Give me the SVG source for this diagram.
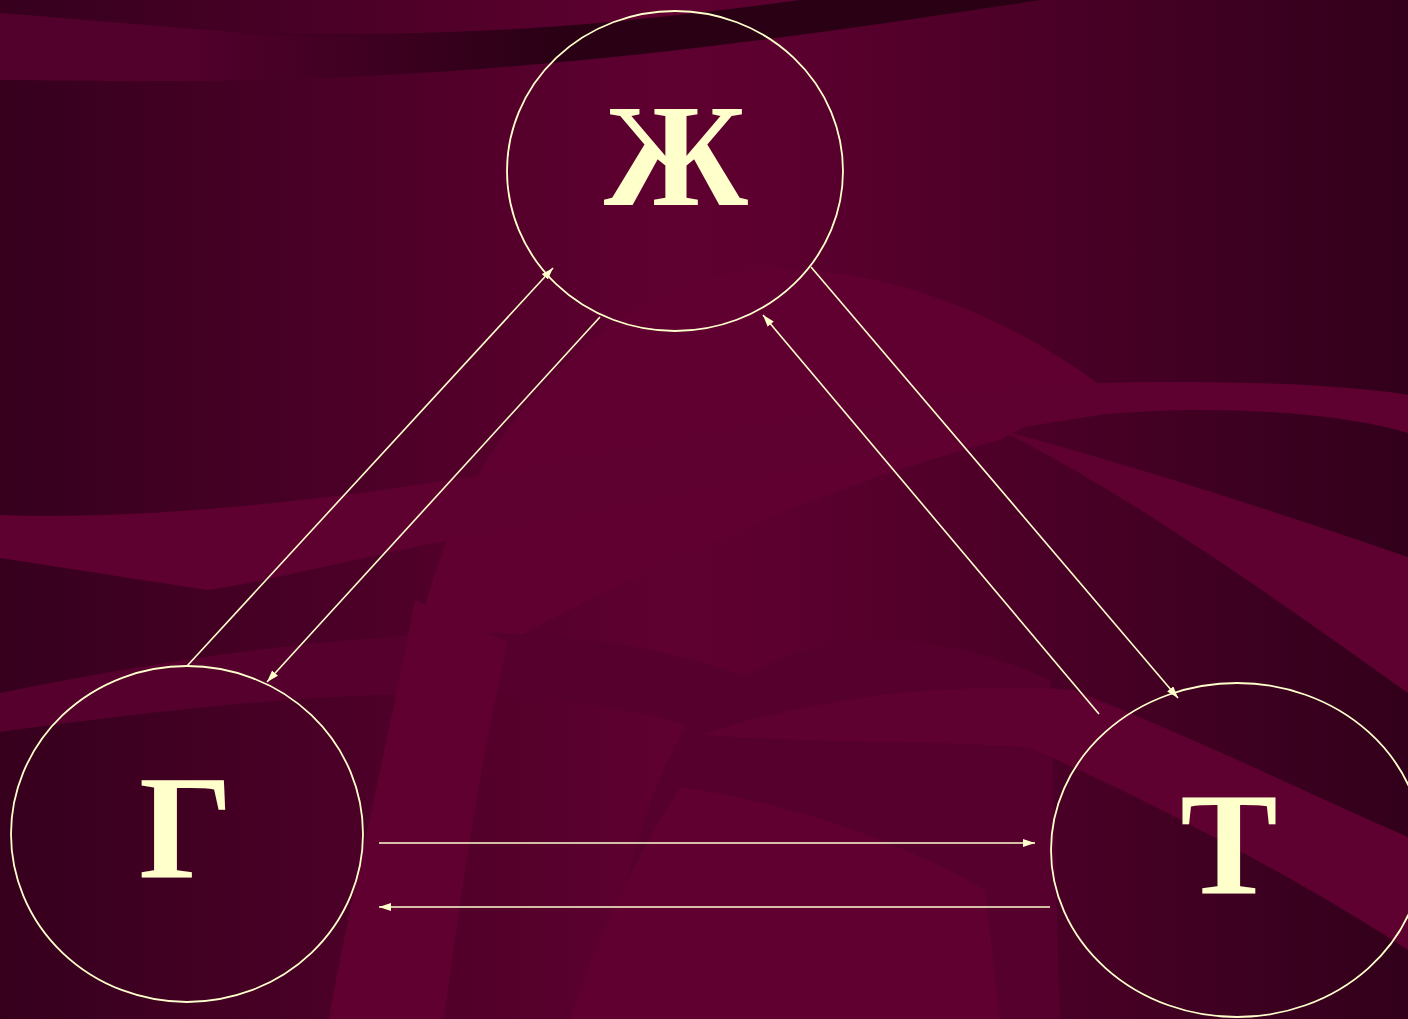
<svg xmlns="http://www.w3.org/2000/svg" width="1408" height="1019" viewBox="0 0 1408 1019">
<style>
.node-ring{fill:none;stroke:#FFFFCC;stroke-width:1.8}
.label{font-family:"Liberation Serif","Times New Roman",serif;font-weight:bold;fill:#FFFFCC;text-anchor:middle}
.conn{stroke:#FFFFCC;stroke-width:1.6;fill:none;marker-end:url(#arrow)}
</style>
<defs>
<linearGradient id="bg" x1="0" y1="0" x2="1" y2="0">
<stop offset="0" stop-color="#36001D"/>
<stop offset="0.47" stop-color="#5E0030"/>
<stop offset="0.55" stop-color="#5C002F"/>
<stop offset="1" stop-color="#32001B"/>
</linearGradient>
<linearGradient id="darkband" gradientUnits="userSpaceOnUse" x1="180" y1="0" x2="560" y2="0">
<stop offset="0" stop-color="#2A0015" stop-opacity="0"/>
<stop offset="1" stop-color="#2A0015" stop-opacity="1"/>
</linearGradient>
<marker id="arrow" markerUnits="userSpaceOnUse" markerWidth="12" markerHeight="8" refX="12" refY="4" orient="auto">
<path d="M0,0 L12,4 L0,8 Z" fill="#FFFFCC"/>
</marker>
</defs>
<g id="background">
<rect width="1408" height="1019" fill="url(#bg)"/>
<path d="M0,13 C90,20 180,28 260,34 C450,42 640,22 800,0 L1041,0 C840,30 560,74 250,80 C160,82 60,81 0,80 Z" fill="#52002C"/>
<path d="M200,31 C450,42 640,22 800,0 L1041,0 C840,30 560,74 250,80 L200,80 Z" fill="url(#darkband)"/>
<path d="M415,650 C450,470 560,320 720,275 C850,250 1000,310 1100,385 L1000,440 C850,480 700,540 508,642 Z" fill="#5F0031"/>
<path d="M0,515 C200,522 450,485 700,435 C850,405 1000,383 1150,382 C1300,381 1380,390 1408,395 L1408,433 C1330,410 1200,405 1100,415 C900,445 700,490 450,540 C350,560 250,585 207,590 L0,558 Z" fill="#5E0030"/>
<path d="M1000,430 C1150,470 1300,520 1408,557 L1408,693 C1250,580 1120,490 1000,430 Z" fill="#5E0030"/>
<path d="M0,693 C150,662 300,640 450,633 C600,630 720,660 800,700 L780,760 C700,720 600,700 500,695 C350,690 200,705 0,732 Z" fill="#55002D"/>
<path d="M329,1019 L444,1019 C460,900 480,760 508,642 L415,600 C380,780 350,900 329,1019 Z" fill="#5F0031"/>
<path d="M600,1019 C620,900 640,800 690,720 C760,640 900,610 1050,680 L1060,1019 Z" fill="#55002D"/>
<path d="M570,1019 C600,930 640,850 680,787 C780,800 900,840 985,890 L1000,1019 Z" fill="#600031"/>
<path d="M700,735 C800,700 950,680 1073,690 C1200,740 1300,790 1408,837 L1408,950 C1300,880 1150,800 1030,748 C950,740 850,745 700,735 Z" fill="#5E0030"/>
</g>
<g id="connectors">
<line class="conn" x1="187" y1="666" x2="553" y2="268"/>
<line class="conn" x1="600" y1="317" x2="267" y2="682"/>
<line class="conn" x1="811" y1="267" x2="1178" y2="698"/>
<line class="conn" x1="1099" y1="714" x2="763" y2="315"/>
<line class="conn" x1="379" y1="843" x2="1035" y2="843"/>
<line class="conn" x1="1050" y1="907" x2="379" y2="907"/>
</g>
<g id="node-zh">
<ellipse class="node-ring" cx="675" cy="171" rx="168" ry="160"/>
<text class="label" x="676" y="205" font-size="146">Ж</text>
</g>
<g id="node-g">
<ellipse class="node-ring" cx="187" cy="834" rx="176" ry="168"/>
<text class="label" x="186" y="878" font-size="148">Г</text>
</g>
<g id="node-t">
<ellipse class="node-ring" cx="1237" cy="850" rx="186" ry="167"/>
<text class="label" x="1229" y="893" font-size="146">Т</text>
</g>
</svg>
